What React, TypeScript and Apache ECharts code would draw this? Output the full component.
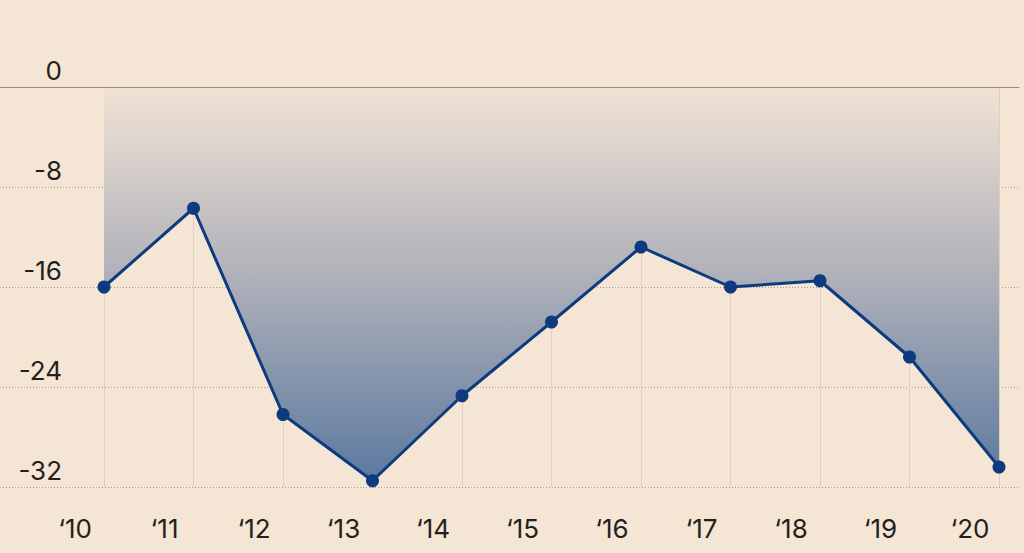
import React, { useEffect, useRef } from "react";
import * as echarts from "echarts";

const years = ["‘10", "‘11", "‘12", "‘13", "‘14", "‘15", "‘16", "‘17", "‘18", "‘19", "‘20"];
const values = [-16.0, -9.7, -26.2, -31.5, -24.7, -18.8, -12.8, -16.0, -15.5, -21.6, -30.4];
const yTicks = { min: -32, max: 0, interval: 8 };

const BG = "#f4e5d5";
const TEXT = "#231f1c";
const LINE = "#0e3a80";
const FONT = "Inter, 'Open Sans', sans-serif";

export default function App() {
  const ref = useRef<HTMLDivElement>(null);
  useEffect(() => {
    if (!ref.current) return;
    const chart = echarts.init(ref.current, undefined, { renderer: "svg" });
    chart.setOption({
      animation: false,
      backgroundColor: BG,
      grid: [
        { left: 0, right: 5, top: 87, bottom: 66, containLabel: false },
        { left: 104, right: 25, top: 87, bottom: 66, containLabel: false },
      ],
      xAxis: [
        {
          type: "value",
          gridIndex: 0,
          min: 0,
          max: 1,
          position: "top",
          z: 10,
          axisLine: { show: true, onZero: false, lineStyle: { color: "#9c8b7d", width: 1 } },
          axisTick: { show: false },
          axisLabel: { show: false },
          splitLine: { show: false },
        },
        {
          type: "category",
          gridIndex: 1,
          data: years,
          boundaryGap: false,
          axisLine: { show: false },
          axisTick: { show: false },
          axisLabel: {
            color: TEXT,
            fontFamily: FONT,
            fontSize: 26,
            margin: 28,
            align: "center",
            padding: [0, 58, 0, 0],
          },
          splitLine: { show: true, lineStyle: { color: "#e0cfbf", width: 1 } },
        },
      ],
      yAxis: [
        {
          type: "value",
          gridIndex: 0,
          min: yTicks.min,
          max: yTicks.max,
          interval: yTicks.interval,
          axisLine: { show: false },
          axisTick: { show: false },
          axisLabel: {
            inside: true,
            margin: 62,
            align: "right",
            verticalAlign: "bottom",
            padding: [0, 0, 4, 0],
            color: TEXT,
            fontFamily: FONT,
            fontSize: 26,
            showMinLabel: true,
            showMaxLabel: true,
          },
          splitLine: { show: true, lineStyle: { color: "#a89888", width: 1, type: [1, 2] } },
        },
        {
          type: "value",
          gridIndex: 1,
          min: yTicks.min,
          max: yTicks.max,
          interval: yTicks.interval,
          show: false,
          splitLine: { show: false },
        },
      ],
      series: [
        {
          type: "line",
          xAxisIndex: 1,
          yAxisIndex: 1,
          data: values,
          symbol: "circle",
          symbolSize: 13,
          itemStyle: { color: LINE },
          lineStyle: { color: LINE, width: 3 },
          areaStyle: {
            opacity: 1,
            color: new echarts.graphic.LinearGradient(0, 0, 0, 1, [
              { offset: 0, color: "#f1e3d4" },
              { offset: 0.5, color: "#acaeb8" },
              { offset: 1, color: "#5b799f" },
            ]),
          },
          z: 3,
        },
      ],
    });
    return () => chart.dispose();
  }, []);
  return (
    <div
      ref={ref}
      style={{ position: "fixed", left: 0, top: 0, width: 1024, height: 553 }}
    />
  );
}
